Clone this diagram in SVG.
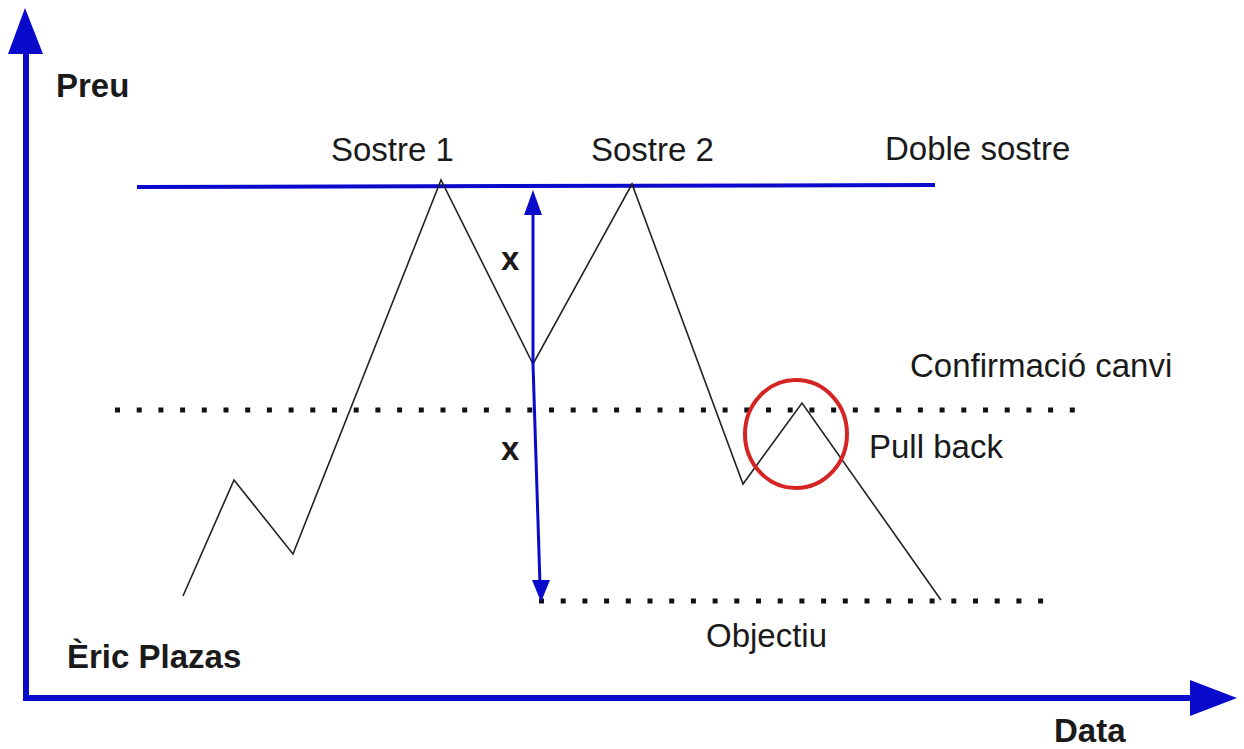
<svg xmlns="http://www.w3.org/2000/svg" width="1244" height="749" viewBox="0 0 1244 749">
<style>
.lbl{font-family:"Liberation Sans",Arial,sans-serif;font-size:33px;fill:#1a1a1a}
.b{font-weight:bold}
.blue{stroke:#0a0acc;fill:none}
.dots{stroke:#111;stroke-width:5;stroke-dasharray:5 16.7;fill:none}
</style>
<rect width="1244" height="749" fill="#fff"/>
<g id="axes">
<polyline class="blue" points="26,52 26,698 1192,698" stroke-width="6" stroke-linejoin="miter"/>
<polygon points="25,8 8,54 43,54" fill="#0a0acc"/>
<polygon points="1237,698 1190,680 1190,716" fill="#0a0acc"/>
</g>
<g id="connectors">
<line id="doble-sostre-line" class="blue" x1="137" y1="187" x2="935" y2="185" stroke-width="4"/>
<line class="dots" x1="115" y1="410" x2="1076" y2="410"/>
<line class="dots" x1="539" y1="601" x2="1046" y2="601"/>
<polyline id="price" points="183,596 234,480 293,554 441,180 533,364 632,184 743,484 802,403 941,600" fill="none" stroke="#222" stroke-width="1.6" stroke-linejoin="miter"/>
<line class="blue" x1="533" y1="364" x2="533" y2="210" stroke-width="3"/>
<polygon points="533,190 524,215 542,215" fill="#0a0acc"/>
<line class="blue" x1="533" y1="364" x2="540" y2="585" stroke-width="3"/>
<polygon points="541,602 532,580 550,580" fill="#0a0acc"/>
<ellipse id="pullback-circle" cx="796" cy="434" rx="51" ry="54" fill="none" stroke="#d42424" stroke-width="4"/>
</g>
<g id="labels">
<text class="lbl b" x="56" y="97">Preu</text>
<text class="lbl" x="331" y="161">Sostre 1</text>
<text class="lbl" x="591" y="161">Sostre 2</text>
<text class="lbl" x="885" y="160">Doble sostre</text>
<text class="lbl b" x="501" y="270">x</text>
<text class="lbl b" x="501" y="460">x</text>
<text class="lbl" x="910" y="377">Confirmació canvi</text>
<text class="lbl" x="869" y="458">Pull back</text>
<text class="lbl" x="706" y="647">Objectiu</text>
<text class="lbl b" x="67" y="668">Èric Plazas</text>
<text class="lbl b" x="1054" y="742">Data</text>
</g>
</svg>
